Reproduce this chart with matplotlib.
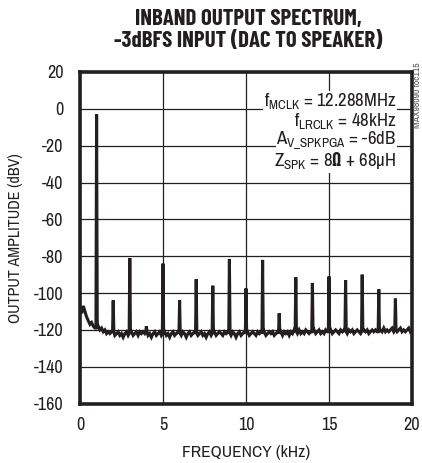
import matplotlib.pyplot as plt
import numpy as np

# harmonics of the 1kHz tone (kHz) and their peak levels (dBV)
harm_freq = [1, 2, 3, 4, 5, 6, 7, 8, 9, 10, 11, 12, 13, 14, 15, 16, 17, 18, 19]
harm_level = [-3, -104, -81, -118, -84, -104, -92.5, -96, -81.5, -97.5, -82,
              -111, -91.5, -94.5, -91, -93, -90, -98, -103]

# noise floor, every 0.1kHz from 0 to 20kHz
floor_freq = np.round(np.arange(201) * 0.1, 1)
floor_level = [
    -108, -111, -107, -110, -113, -115, -117, -116, -118, -119,
    -119, -118, -120, -119, -121, -120, -122, -121, -122, -121,
    -121, -123, -122, -121, -123, -122, -124, -122, -121, -123,
    -122, -121, -123, -122, -121, -123, -121, -122, -121, -122,
    -121, -123, -122, -124, -122, -121, -123, -122, -121, -123,
    -122, -121, -123, -122, -124, -122, -121, -123, -122, -121,
    -122, -123, -121, -122, -124, -122, -121, -123, -122, -121,
    -122, -123, -122, -121, -123, -122, -124, -122, -121, -123,
    -122, -121, -123, -122, -121, -122, -123, -121, -122, -121,
    -122, -123, -121, -122, -124, -122, -121, -123, -122, -121,
    -122, -121, -123, -122, -121, -122, -123, -121, -122, -121,
    -122, -121, -123, -122, -121, -122, -121, -123, -122, -121,
    -122, -121, -123, -121, -122, -121, -123, -121, -122, -120,
    -121, -122, -120, -122, -121, -122, -120, -121, -122, -121,
    -121, -120, -122, -121, -120, -122, -121, -122, -120, -121,
    -121, -120, -122, -121, -120, -121, -122, -120, -121, -120,
    -121, -122, -120, -121, -120, -122, -121, -120, -121, -122,
    -121, -120, -121, -120, -122, -121, -120, -121, -120, -121,
    -121, -120, -121, -119, -121, -120, -121, -120, -119, -121,
    -120, -121, -120, -119, -121, -120, -121, -120, -119, -121,
    -120]

# merge floor and spikes into one trace
xs, ys = [], []
for f, lv in zip(floor_freq, floor_level):
    if f in harm_freq:
        pk = harm_level[harm_freq.index(f)]
        xs += [f - 0.04, f, f + 0.04]
        ys += [lv, pk, lv]
    else:
        xs.append(f)
        ys.append(lv)

ink = '#231f20'
plt.rcParams['font.family'] = ['Archivo Narrow', 'DejaVu Sans']
plt.rcParams['axes.unicode_minus'] = False
plt.rcParams['mathtext.fontset'] = 'custom'
plt.rcParams['mathtext.rm'] = 'Archivo Narrow'
plt.rcParams['mathtext.bf'] = 'Barlow Condensed:bold'

fig = plt.figure(figsize=(4.22, 4.63), dpi=100)
ax = fig.add_axes([80 / 422, (463 - 403.6) / 463, 332 / 422, 331.6 / 463])

ax.plot(xs, ys, color=ink, lw=2.2, solid_joinstyle='miter')

ax.set_xlim(0, 20)
ax.set_ylim(-160, 20)
ax.set_xticks([0, 5, 10, 15, 20])
ax.set_yticks(np.arange(-160, 21, 20))
ax.grid(True, color=ink, lw=0.9)
ax.tick_params(length=0, labelsize=13, colors=ink)
ax.tick_params(axis='y', pad=12)
ax.tick_params(axis='x', pad=10)
for s in ax.spines.values():
    s.set_linewidth(2.6)
    s.set_color(ink)

ax.set_xlabel('FREQUENCY (kHz)', fontsize=12.5, color=ink, labelpad=8)
ax.set_ylabel('OUTPUT AMPLITUDE (dBV)', fontsize=11.5, color=ink, labelpad=8)

fig.text(0.588, 0.958, 'INBAND OUTPUT SPECTRUM,', ha='center', va='center',
         fontsize=16.5, fontweight='bold', color=ink, family='Barlow Condensed')
fig.text(0.588, 0.912, '-3dBFS INPUT (DAC TO SPEAKER)', ha='center', va='center',
         fontsize=16.5, fontweight='bold', color=ink, family='Barlow Condensed')

notes = ['f$_{\\mathregular{MCLK}}$ = 12.288MHz',
         'f$_{\\mathregular{LRCLK}}$ = 48kHz',
         'A$_{\\mathregular{V\\_SPKPGA}}$ = -6dB',
         'Z$_{\\mathregular{SPK}}$ = 8$\\mathbf{\\Omega}$ + 68µH']
note_y = [4.0, -6.8, -17.6, -28.4]
for t, y in zip(notes, note_y):
    ax.text(19.05, y, t, ha='right', va='center', fontsize=13.5,
            color=ink, bbox=dict(fc='white', ec='none', pad=0.6))

fig.text(0.99, 0.866, 'MAX98090 toc115', rotation=90, ha='center', va='top',
         fontsize=7, color='#555555')

fig.savefig('out.png', dpi=100)
